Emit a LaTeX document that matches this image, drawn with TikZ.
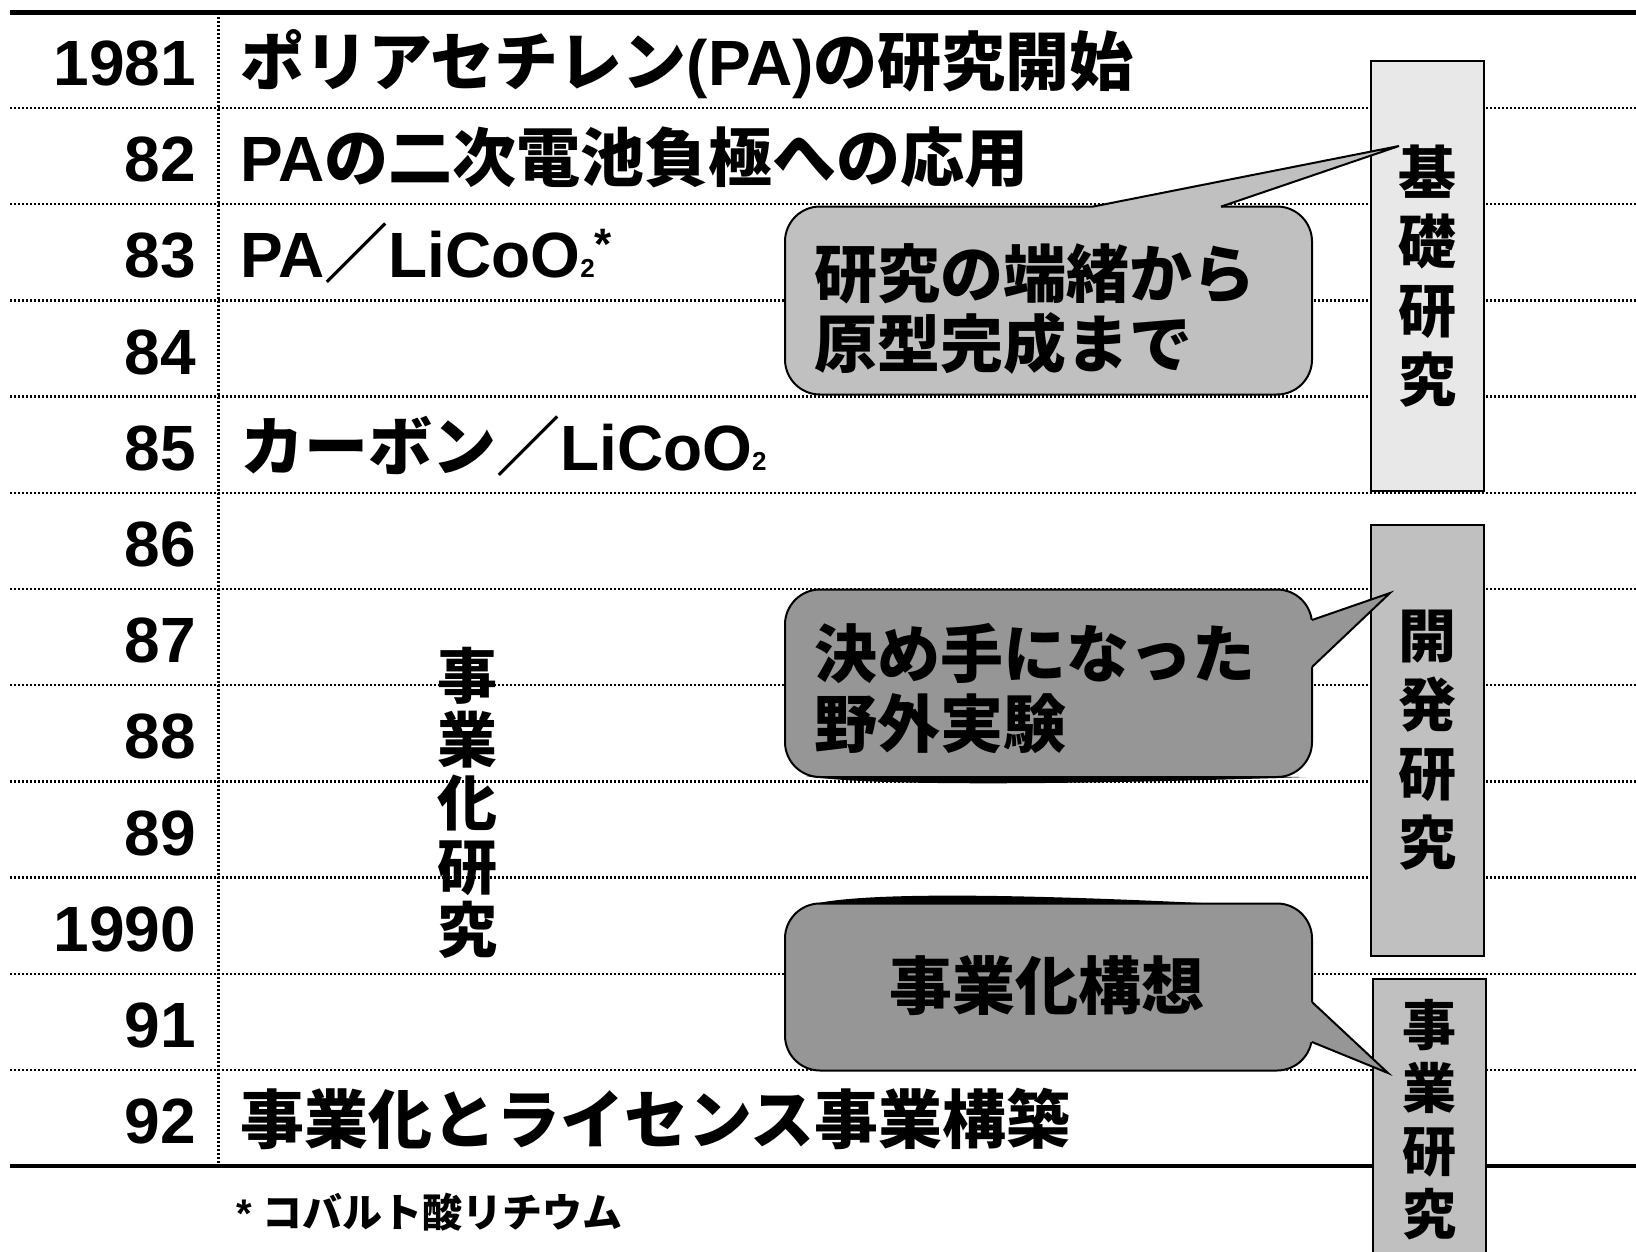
\documentclass[tikz,border=0pt]{standalone}
\usepackage{fontspec}
\setmainfont{Liberation Sans}
\newfontfamily\jp{Noto Sans CJK JP}
\definecolor{boxA}{HTML}{E8E8E8}
\definecolor{boxB}{HTML}{C0C0C0}
\definecolor{boxC}{HTML}{969696}
\newcommand\subtwo{{\fontsize{26}{26}\selectfont 2}}
\newcommand\supstar{\raisebox{18pt}{\fontsize{44}{44}\selectfont *}}
\begin{document}
\begin{tikzpicture}[x=1pt,y=-1pt,
  dotline/.style={line width=2.4pt, dash pattern=on 2pt off 2pt},
  rule/.style={line width=4.6pt},
  yr/.style={anchor=base east, inner sep=0pt, font=\fontsize{64}{64}\selectfont\bfseries},
  ev/.style={anchor=base west, inner sep=0pt, font=\fontsize{64}{64}\selectfont\bfseries},
  phase/.style={draw=black, line width=2pt, minimum width=113pt, inner sep=0pt, align=center},
  bubble/.style={draw=black, line width=2pt, rounded corners=35pt, minimum width=527pt, inner sep=0pt},
  btext/.style={inner sep=0pt, align=left, font=\fontsize{63}{70}\selectfont\bfseries\jp},
  tailedge/.style={draw=black, line width=2pt, line join=miter},
]
\useasboundingbox (0,0) rectangle (1636,1251);
\fill[white] (0,0) rectangle (1636,1251);

% table rules
\foreach \k in {0,...,10} \draw[dotline] (10,108+96.2*\k) -- (1636,108+96.2*\k);
\draw[dotline] (218.5,12.5) -- (218.5,1166);
\draw[rule] (10,12.5) -- (1636,12.5);
\draw[rule] (10,1166) -- (1636,1166);

% years
\foreach \yy [count=\i from 0] in {1981,82,83,84,85,86,87,88,89,1990,91,92}
  \node[yr] (y\i) at (196,85.5+96.2*\i) {\yy};

% events
\node[ev] (e0) at (240,85.5) {{\jp ポリアセチレン}(PA){\jp の研究開始}};
\node[ev] (e1) at (240,181.7) {PA{\jp の二次電池負極への応用}};
\node[ev] (e2) at (240,277.9) {PA{\jp ／}LiCoO\subtwo\supstar};
\node[ev] (e4) at (240,470.3) {{\jp カーボン／}LiCoO\subtwo};
\node[ev] (e11) at (240,1143.7) {{\jp 事業化とライセンス事業構築}};

% vertical label
\node[inner sep=0pt, align=center, font=\fontsize{60}{63.5}\selectfont\bfseries\jp] (biz) at (467,803) {事\\業\\化\\研\\究};

% footnote
\node[anchor=base west, inner sep=0pt, font=\fontsize{40}{40}\selectfont\bfseries] (note) at (236,1227) {* {\jp コバルト酸リチウム}};

% phase boxes
\node[phase, fill=boxA, minimum height=430.5pt, font=\fontsize{58}{69}\selectfont\bfseries\jp] (b1) at (1427.5,275.75) {基\\礎\\研\\究};
\node[phase, fill=boxB, minimum height=431.5pt, font=\fontsize{58}{69}\selectfont\bfseries\jp] (b2) at (1427.5,740.25) {開\\発\\研\\究};
\node[phase, fill=boxB, minimum height=281pt, minimum width=113pt, font=\fontsize{54}{63}\selectfont\bfseries\jp] (b3) at (1429.5,1119.5) {事\\業\\研\\究};

% callout 1
\node[bubble, fill=boxB, minimum height=188pt] (c1) at (1048.5,300.5) {};
\coordinate (c1a) at (1093,206.6);
\coordinate (c1b) at (1221,206.6);
\coordinate (c1tip) at (1399,146);
\fill[boxB] (c1a) -- (c1tip) -- (c1b) -- (1221,210.6) -- (1093,210.6) -- cycle;
\draw[tailedge] (c1a) -- (c1tip) -- (c1b);
\node[btext, anchor=west] (c1t) at (814,308.5) {研究の端緒から\\原型完成まで};

% callout 2
\fill[black] (806,776) .. controls (870,787) and (1100,784) .. (1306,777) -- cycle;
\node[bubble, fill=boxC, minimum height=187.5pt] (c2) at (1048.5,683.25) {};
\coordinate (c2a) at (1312,620);
\coordinate (c2b) at (1312,667);
\coordinate (c2tip) at (1390,593);
\fill[boxC] (c2a) -- (c2tip) -- (c2b) -- (1308,667) -- (1308,620) -- cycle;
\draw[tailedge] (c2a) -- (c2tip) -- (c2b);
\node[btext, anchor=west] (c2t) at (814,688.5) {決め手になった\\野外実験};

% callout 3
\fill[black] (806,906) .. controls (850,892) and (1000,893) .. (1222,904) -- cycle;
\node[bubble, fill=boxC, minimum height=167pt] (c3) at (1048.5,987) {};
\coordinate (c3a) at (1312,1002);
\coordinate (c3b) at (1312,1042);
\coordinate (c3tip) at (1388,1073);
\fill[boxC] (c3a) -- (c3tip) -- (c3b) -- (1308,1042) -- (1308,1002) -- cycle;
\draw[tailedge] (c3a) -- (c3tip) -- (c3b);
\node[btext, anchor=center] (c3t) at (1047,986) {事業化構想};
\end{tikzpicture}
\end{document}
